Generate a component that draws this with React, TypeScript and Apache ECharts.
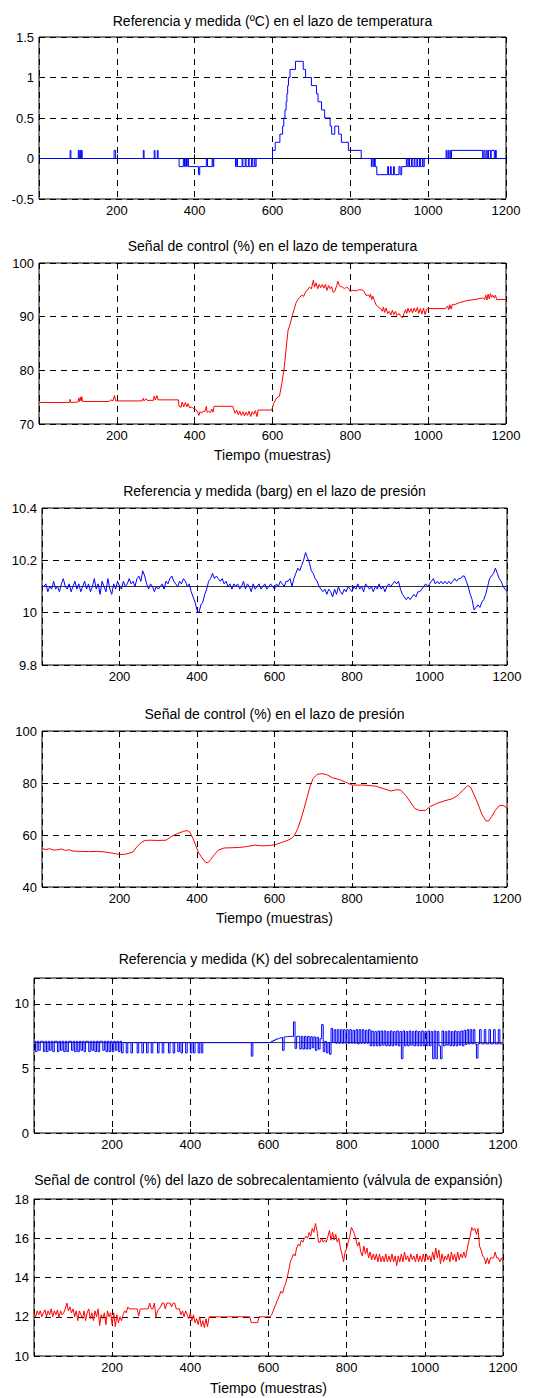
import React, { useEffect, useRef } from "react";
import * as echarts from "echarts";

// ---------------- data ----------------
const titles = [
  "Referencia y medida (ºC) en el lazo de temperatura",
  "Señal de control (%) en el lazo de temperatura",
  "Referencia y medida (barg) en el lazo de presión",
  "Señal de control (%) en el lazo de presión",
  "Referencia y medida (K) del sobrecalentamiento",
  "Señal de control (%) del lazo de sobrecalentamiento (válvula de expansión)",
];
const xAxisName = "Tiempo (muestras)";
const xRange = [0, 1200];
const xInterval = 200;
const yRanges = [
  [-0.5, 1.5, 0.5],
  [70, 100, 10],
  [9.8, 10.4, 0.2],
  [40, 100, 20],
  [0, 12, 5],
  [10, 18, 2],
];

// Temperature loop: reference and measured error (ºC), step-held samples [sample, value]
const tempRef = [[0, 0], [1200, 0]];
const tempMeas = [
  [0, 0], [80, 0.1], [82, 0], [101, 0.1], [103, 0], [105, 0.1], [107, 0], [109, 0.1], [111, 0],
  [193, 0.1], [197, 0], [268, 0.1], [270, 0], [296, 0.1], [298, 0], [304, 0.1], [306, 0],
  [360, -0.1], [371, 0], [374, -0.1], [376, 0], [379, -0.1], [381, 0], [384, -0.1], [410, -0.2],
  [413, -0.1], [430, 0], [433, -0.1], [445, 0], [447, -0.1], [449, 0],
  [505, -0.1], [507, 0], [510, -0.1], [522, 0], [524, -0.1], [530, 0], [532, -0.1], [538, 0],
  [540, -0.1], [546, 0], [548, -0.1], [553, 0], [555, -0.1], [558, 0],
  [600, 0.1], [607, 0.2], [619, 0.3], [626, 0.4], [629, 0.5], [632, 0.6], [635, 0.7], [637, 0.8],
  [639, 0.9], [641, 1.0], [645, 1.1], [659, 1.2], [679, 1.1], [685, 1.0], [700, 0.9], [713, 0.8],
  [717, 0.7], [726, 0.6], [734, 0.5], [748, 0.4], [752, 0.3], [760, 0.4], [770, 0.3], [777, 0.2],
  [795, 0.1], [828, 0],
  [854, -0.1], [856, 0], [859, -0.1], [862, 0], [864, -0.1], [868, -0.2], [896, -0.1], [898, -0.2],
  [903, -0.1], [905, -0.2], [911, -0.1], [913, -0.2], [925, -0.1], [928, -0.2], [932, -0.1],
  [944, 0], [946, -0.1], [950, 0], [952, -0.1], [957, 0], [959, -0.1], [964, 0], [966, -0.1],
  [971, 0], [973, -0.1], [978, 0], [980, -0.1], [985, 0], [987, -0.1], [990, 0],
  [1046, 0.1], [1048, 0], [1051, 0.1], [1053, 0], [1056, 0.1], [1058, 0], [1060, 0.1], [1140, 0],
  [1143, 0.1], [1146, 0], [1149, 0.1], [1152, 0], [1155, 0.1], [1160, 0], [1162, 0.1], [1170, 0],
  [1173, 0.1], [1175, 0], [1200, 0],
];

// Temperature loop control signal (%)
const tempCtrl = [
  [0, 74.0], [78, 74.0], [80, 74.6], [82, 74.0], [100, 74.1], [102, 74.8], [104, 74.2], [106, 75.0],
  [108, 74.3], [110, 75.1], [112, 74.2], [180, 74.2], [185, 74.5], [190, 74.3], [194, 75.3], [197, 74.3],
  [265, 74.3], [268, 74.8], [270, 74.3], [275, 74.7], [278, 74.4], [294, 74.4], [296, 75.2], [299, 74.5],
  [303, 75.3], [306, 74.5], [358, 74.5], [360, 73.3], [365, 73.1], [368, 74.1], [372, 73.2], [376, 74.0],
  [380, 73.2], [383, 73.8], [387, 73.0], [392, 73.2], [396, 72.9], [400, 72.9], [404, 72.6], [408, 72.2],
  [411, 71.6], [414, 72.3], [418, 72.0], [422, 72.4], [426, 72.3], [430, 73.3], [432, 72.2], [436, 72.4],
  [440, 72.1], [444, 72.8], [447, 72.2], [450, 73.3], [455, 73.3], [498, 73.3], [500, 72.8], [504, 72.0],
  [508, 72.6], [512, 71.7], [516, 72.4], [520, 71.6], [524, 72.3], [528, 71.5], [532, 72.2], [536, 71.6],
  [540, 72.4], [544, 71.4], [548, 72.3], [552, 71.8], [556, 72.5], [560, 71.4], [563, 72.6], [598, 72.6],
  [603, 73.8], [610, 74.8], [618, 75.2], [625, 78.0], [630, 80.5], [635, 84.0], [640, 87.5], [645, 88.5],
  [650, 90.0], [655, 91.2], [660, 92.5], [665, 93.2], [670, 93.6], [675, 94.0], [680, 93.8], [685, 94.6],
  [690, 95.0], [695, 95.5], [700, 95.2], [705, 96.8], [708, 95.5], [712, 96.3], [716, 95.2], [720, 96.0],
  [724, 95.4], [728, 96.0], [732, 95.3], [736, 96.0], [740, 94.9], [744, 95.8], [748, 95.2], [752, 95.6],
  [756, 94.5], [760, 94.7], [765, 95.8], [768, 96.6], [772, 95.8], [776, 95.6], [780, 95.5], [785, 95.2],
  [790, 95.5], [795, 95.3], [800, 94.7], [805, 94.9], [815, 94.8], [820, 95.0], [830, 95.0], [835, 94.7],
  [840, 94.0], [848, 94.0], [850, 93.6], [852, 94.2], [855, 93.2], [858, 93.8], [862, 93.0], [866, 92.2],
  [872, 91.8], [878, 91.5], [882, 91.0], [885, 91.8], [888, 90.8], [892, 91.6], [896, 90.6], [900, 91.0],
  [904, 90.3], [908, 91.2], [912, 90.4], [916, 91.0], [920, 90.2], [925, 90.6], [930, 90.0], [935, 89.8],
  [938, 90.6], [942, 91.3], [945, 90.6], [948, 91.6], [952, 90.8], [956, 91.5], [960, 90.7], [964, 91.6],
  [968, 90.9], [972, 91.7], [976, 90.6], [980, 91.5], [984, 90.5], [988, 91.6], [992, 90.4], [996, 91.4],
  [1000, 91.5], [1045, 91.5], [1050, 92.0], [1053, 91.3], [1056, 92.2], [1059, 91.4], [1062, 92.3],
  [1066, 92.2], [1080, 92.6], [1100, 93.0], [1120, 93.2], [1140, 93.5], [1145, 93.2], [1148, 94.0],
  [1151, 93.1], [1154, 94.2], [1157, 93.3], [1160, 94.3], [1163, 93.6], [1166, 94.0], [1170, 93.5],
  [1173, 94.0], [1176, 93.2], [1200, 93.2],
];

// Pressure loop (barg): reference level and measured values every 5 samples from 0
const presRefLevel = 10.1;
const presStep = 5;
const presMeas = [
  10.10,
  10.10, 10.11, 10.08, 10.10, 10.09, 10.12, 10.09, 10.10, 10.08, 10.11, 10.13, 10.10, 10.09, 10.11, 10.08, 10.10, 10.12, 10.09, 10.11, 10.08,
  10.10, 10.12, 10.09, 10.11, 10.08, 10.10, 10.13, 10.09, 10.11, 10.07, 10.12, 10.10, 10.08, 10.13, 10.09, 10.07, 10.11, 10.09, 10.12, 10.10,
  10.09, 10.12, 10.10, 10.11, 10.13, 10.11, 10.12, 10.10, 10.13, 10.14, 10.12, 10.16, 10.14, 10.11, 10.09, 10.11, 10.10, 10.08, 10.10, 10.09,
  10.10, 10.11, 10.09, 10.12, 10.11, 10.13, 10.14, 10.12, 10.11, 10.10, 10.12, 10.11, 10.13, 10.12, 10.10, 10.11, 10.08, 10.06, 10.04, 10.01,
  10.00, 10.03, 10.04, 10.07, 10.09, 10.12, 10.13, 10.15, 10.13, 10.14, 10.13, 10.12, 10.13, 10.11, 10.12, 10.10, 10.11, 10.09, 10.11, 10.10,
  10.11, 10.09, 10.10, 10.12, 10.09, 10.11, 10.10, 10.08, 10.11, 10.09, 10.10, 10.11, 10.09, 10.10, 10.11, 10.09, 10.10, 10.11, 10.10, 10.09,
  10.11, 10.10, 10.12, 10.11, 10.10, 10.12, 10.12, 10.13, 10.10, 10.13, 10.15, 10.17, 10.16, 10.18, 10.20, 10.23, 10.21, 10.19, 10.16, 10.15,
  10.13, 10.12, 10.10, 10.09, 10.08, 10.09, 10.07, 10.09, 10.08, 10.06, 10.09, 10.07, 10.10, 10.08, 10.07, 10.09, 10.08, 10.10, 10.09, 10.08,
  10.10, 10.09, 10.11, 10.09, 10.10, 10.08, 10.11, 10.10, 10.09, 10.10, 10.08, 10.10, 10.09, 10.11, 10.09, 10.10, 10.08, 10.10, 10.11, 10.10,
  10.11, 10.12, 10.11, 10.12, 10.09, 10.07, 10.06, 10.05, 10.06, 10.05, 10.06, 10.07, 10.06, 10.08, 10.08, 10.09, 10.10, 10.11, 10.10, 10.11,
  10.12, 10.13, 10.11, 10.12, 10.11, 10.12, 10.11, 10.12, 10.11, 10.12, 10.11, 10.12, 10.13, 10.12, 10.13, 10.13, 10.14, 10.14, 10.12, 10.10,
  10.07, 10.05, 10.01, 10.02, 10.03, 10.02, 10.04, 10.05, 10.07, 10.10, 10.13, 10.14, 10.15, 10.17, 10.15, 10.13, 10.12, 10.10, 10.09, 10.08,
];

// Pressure loop control signal (%)
const presCtrl = [
  [0, 54.8], [10, 54.4], [20, 54.7], [30, 54.2], [40, 54.3], [50, 54.6], [60, 54.1], [70, 54.3], [80, 53.8],
  [100, 53.7], [120, 53.6], [140, 53.7], [160, 53.5], [175, 53.2], [190, 52.8], [200, 52.5], [215, 52.6],
  [225, 53.0], [235, 53.5], [245, 55.5], [255, 57.0], [265, 57.9], [280, 58.0], [300, 57.9], [320, 58.0],
  [335, 59.5], [350, 60.6], [365, 61.4], [375, 61.7], [382, 61.0], [390, 58.5], [398, 55.5], [405, 53.0],
  [413, 51.2], [422, 49.5], [428, 49.3], [435, 50.5], [445, 52.5], [455, 54.2], [470, 55.0], [490, 55.1],
  [510, 55.2], [530, 55.6], [550, 56.1], [570, 55.8], [590, 56.0], [605, 56.4], [620, 57.2], [635, 58.0],
  [645, 58.8], [652, 60.0], [660, 62.5], [668, 66.0], [676, 70.0], [684, 74.5], [692, 78.8], [700, 81.8],
  [710, 83.3], [722, 83.6], [735, 83.2], [750, 82.0], [770, 81.2], [785, 80.2], [800, 79.2], [830, 79.2],
  [860, 78.8], [880, 77.9], [900, 76.9], [915, 77.4], [925, 77.3], [940, 75.0], [950, 72.8], [962, 70.2],
  [975, 69.4], [990, 69.5], [1000, 70.8], [1020, 72.2], [1040, 73.2], [1060, 74.0], [1075, 75.5],
  [1088, 77.5], [1098, 79.0], [1106, 78.4], [1115, 75.5], [1125, 72.0], [1135, 68.0], [1145, 65.5],
  [1152, 65.3], [1160, 67.0], [1170, 69.5], [1180, 71.3], [1190, 71.4], [1200, 70.4],
];

// Superheat (K): reference level and measured values every 4 samples from 0
const shRefLevel = 7;
const shStep = 4;
const shMeas = [
  7.1, 6.3, 7.1, 6.4, 7.1, 7.1, 6.3, 7.1, 6.3, 7.1, 6.4, 7.1, 6.3, 7.1, 7.1, 6.3, 7.1, 6.4, 7.1, 6.3, 7.1, 6.3, 7.1, 7.1, 6.4,
  7.1, 6.3, 7.1, 6.3, 7.1, 6.4, 7.1, 6.3, 7.1, 7.1, 6.3, 7.1, 6.4, 7.1, 6.3, 7.1, 6.3, 7.1, 7.1, 6.4, 7.1, 6.3, 7.1, 6.3, 7.1,
  6.3, 7.1, 6.4, 7.1, 6.3, 7.1, 6.2, 7.0, 7.0, 6.2, 7.0, 7.0, 6.2, 7.0, 7.0, 7.0, 6.2, 7.0, 7.0, 6.2, 7.0, 7.0, 6.2, 7.0, 7.0,
  6.2, 7.0, 7.0, 7.0, 6.2, 7.0, 7.0, 6.2, 7.0, 7.0, 7.0, 6.2, 7.0, 7.0, 6.2, 7.0, 7.0, 6.3, 7.0, 6.2, 7.0, 7.0, 6.2, 7.0, 7.0,
  6.2, 7.0, 6.2, 7.0, 7.0, 6.2, 7.0, 6.2, 7.0, 7.0, 7.0, 7.0, 7.0, 7.0, 7.0, 7.0, 7.0, 7.0, 7.0, 7.0, 7.0, 7.0, 7.0, 7.0, 7.0,
  7.0, 7.0, 7.0, 7.0, 7.0, 7.0, 7.0, 7.0, 7.0, 7.0, 7.0, 7.0, 7.0, 7.0, 5.95, 7.0, 7.0, 7.0, 7.0, 7.0, 7.0, 7.0, 7.0, 7.0, 7.0,
  7.0, 7.04, 7.1, 7.16, 7.22, 7.28, 7.33, 7.37, 7.4, 6.4, 7.44, 7.46, 7.48, 7.48, 7.48, 7.48, 8.6, 6.55, 7.48, 7.48, 6.5, 7.48, 6.5, 7.48, 6.5,
  7.48, 6.5, 7.46, 6.6, 7.44, 6.4, 7.4, 6.5, 7.3, 8.4, 6.3, 7.1, 6.2, 7.0, 6.1, 8.1, 7.0, 8.0, 6.95, 8.0, 6.95, 8.0, 6.95, 8.0, 6.95,
  8.0, 6.95, 8.0, 6.95, 7.95, 6.95, 8.0, 6.9, 8.0, 6.95, 8.0, 6.95, 7.95, 6.95, 8.0, 6.75, 7.9, 6.75, 7.85, 6.75, 7.9, 6.75, 7.9, 6.8, 7.9,
  6.75, 7.85, 6.75, 7.9, 6.75, 7.85, 6.8, 7.9, 6.75, 7.85, 5.75, 7.9, 6.75, 7.85, 6.75, 7.9, 6.8, 7.85, 6.75, 7.9, 6.75, 7.85, 6.75, 7.9, 6.75,
  7.85, 6.75, 7.9, 6.75, 7.85, 5.75, 7.9, 5.75, 7.85, 6.75, 5.75, 7.9, 6.75, 7.85, 6.8, 7.9, 6.75, 7.85, 6.75, 7.9, 6.75, 7.85, 6.8, 7.9, 6.75,
  7.95, 6.85, 8.0, 6.9, 8.0, 6.9, 8.0, 6.9, 5.8, 6.9, 8.0, 6.9, 6.9, 8.0, 6.9, 6.9, 8.0, 6.9, 6.9, 8.0, 6.9, 6.9, 8.0, 6.9, 6.9,
  6.9,
];

// Superheat loop control signal (expansion valve, %), every 4 samples from 0
const shCtrl = [
  12.2, 12.0, 12.3, 12.1, 12.3, 12.0, 12.2, 12.35, 12.0, 12.3, 12.1, 12.4, 12.0, 12.3, 12.1, 12.35, 11.95, 12.3, 12.1, 12.2, 12.4, 12.7, 12.3, 12.5, 12.2,
  12.4, 12.0, 12.3, 11.8, 12.3, 12.1, 11.9, 12.3, 11.8, 12.2, 12.4, 11.9, 12.2, 11.8, 12.3, 12.0, 12.4, 11.55, 12.1, 11.9, 12.2, 11.6, 12.3, 12.0, 12.2,
  11.6, 12.2, 11.5, 12.1, 11.7, 12.0, 11.8, 12.1, 12.3, 12.2, 12.5, 12.4, 12.4, 12.4, 12.4, 12.4, 12.4, 12.05, 12.4, 12.4, 12.4, 12.4, 12.4, 12.4, 12.7,
  12.4, 12.4, 12.7, 12.0, 12.3, 12.4, 12.5, 12.7, 12.7, 12.4, 12.7, 12.7, 12.7, 12.5, 12.7, 12.7, 12.4, 12.4, 12.4, 12.1, 12.3, 12.0, 12.3, 12.1, 11.9,
  12.2, 11.8, 12.1, 11.7, 11.9, 11.6, 12.0, 11.5, 11.8, 11.45, 11.9, 11.5, 12.0, 12.0, 12.0, 12.0, 12.0, 12.0, 12.0, 12.0, 12.0, 12.0, 12.0, 12.0, 12.0,
  12.0, 12.0, 12.0, 12.0, 12.0, 12.0, 12.0, 12.0, 12.0, 12.0, 12.0, 12.0, 12.0, 12.0, 11.7, 11.7, 11.7, 11.7, 11.7, 12.0, 12.0, 12.0, 12.0, 12.0, 12.0,
  12.0, 12.0, 12.1, 12.3, 12.5, 12.7, 12.9, 13.1, 13.3, 13.2, 13.5, 13.7, 14.0, 14.4, 14.8, 15.0, 15.2, 15.1, 15.5, 15.7, 15.6, 15.9, 15.8, 16.0, 16.1,
  16.0, 16.3, 16.1, 16.5, 16.3, 16.75, 16.4, 15.8, 15.8, 16.0, 15.8, 15.9, 15.8, 16.1, 16.4, 15.9, 16.3, 15.9, 16.2, 15.8, 16.0, 15.5, 15.2, 14.8, 15.3,
  15.5, 15.8, 16.1, 16.55, 16.4, 16.2, 15.9, 15.6, 15.8, 15.3, 15.1, 15.6, 15.2, 15.5, 15.0, 15.3, 14.9, 15.2, 14.9, 15.2, 14.8, 15.2, 14.8, 15.1, 14.8,
  15.2, 14.8, 15.1, 14.8, 15.2, 14.8, 15.1, 14.6, 15.1, 14.8, 15.2, 14.8, 15.3, 14.9, 15.1, 14.8, 15.2, 14.9, 15.1, 14.8, 15.2, 14.8, 15.1, 14.8, 15.2,
  14.8, 15.2, 14.9, 15.1, 14.8, 15.3, 14.9, 15.5, 15.0, 15.4, 14.7, 15.2, 14.8, 15.1, 14.9, 15.2, 14.8, 15.3, 14.9, 15.2, 14.8, 15.3, 14.9, 15.2, 15.0,
  15.3, 15.0, 15.4, 15.8, 16.1, 16.55, 16.4, 16.5, 16.2, 16.5, 15.6, 15.4, 15.1, 15.0, 14.7, 15.0, 14.7, 15.0, 15.0, 15.0, 15.3, 15.0, 15.0, 14.8, 15.0,
  14.8,
];

// ---------------- layout / style ----------------
const W = 533;
const H = 1398;
const FONT = "'Liberation Sans', Arial, Helvetica, sans-serif";
const BLUE = "#0000ff";
const RED = "#ff0000";
const boxes = [
  { left: 39, top: 37, width: 467, height: 162 },
  { left: 39, top: 263, width: 467, height: 161 },
  { left: 42, top: 508, width: 465, height: 157 },
  { left: 42, top: 731, width: 465, height: 156 },
  { left: 34, top: 978, width: 469, height: 155 },
  { left: 34, top: 1199, width: 469, height: 157 },
];
const titleY = [21, 246, 491, 714, 959, 1180];
const xNameY: Record<number, number> = { 1: 455, 3: 918, 5: 1388 };

function buildOption() {
  const grid = boxes.map((b) => ({
    ...b,
    show: true,
    borderColor: "#000",
    borderWidth: 1,
    backgroundColor: "#fff",
    containLabel: false,
  }));

  const xAxis = boxes.map((_, i) => ({
    type: "value",
    gridIndex: i,
    min: xRange[0],
    max: xRange[1],
    interval: xInterval,
    axisLine: { show: false },
    axisTick: { show: true, inside: true, length: 4, lineStyle: { color: "#000" } },
    axisLabel: {
      margin: 5,
      color: "#000",
      fontSize: 13,
      fontFamily: FONT,
      formatter: (v: number) => (v === 0 ? "" : String(v)),
    },
    splitLine: { show: true, lineStyle: { color: "#000", width: 1, type: [6, 5] } },
  }));

  const yAxis = yRanges.map((r, i) => ({
    type: "value",
    gridIndex: i,
    min: r[0],
    max: r[1],
    interval: r[2],
    axisLine: { show: false },
    axisTick: { show: true, inside: true, length: 4, lineStyle: { color: "#000" } },
    axisLabel: {
      margin: 5,
      color: "#000",
      fontSize: 13,
      fontFamily: FONT,
      formatter: (v: number) => {
        const rounded = Math.round(v * 1000) / 1000;
        if (i === 4 && rounded === 12) return "";
        return String(rounded);
      },
    },
    splitLine: { show: true, lineStyle: { color: "#000", width: 1, type: [6, 5] } },
  }));

  const line = (idx: number, data: number[][], color: string, extra: any = {}) => ({
    type: "line",
    xAxisIndex: idx,
    yAxisIndex: idx,
    data,
    showSymbol: false,
    symbol: "none",
    silent: true,
    lineStyle: { color, width: 1 },
    itemStyle: { color },
    ...extra,
  });

  const presMeasData = presMeas.map((v, i) => [i * presStep, v]);
  const shMeasData = shMeas.map((v, i) => [i * shStep, v]);
  const shCtrlData = shCtrl.map((v, i) => [i * shStep, v]);
  const presRef = [[xRange[0], presRefLevel], [xRange[1], presRefLevel]];
  const shRef = [[xRange[0], shRefLevel], [xRange[1], shRefLevel]];

  const series = [
    line(0, tempRef, "#000"),
    line(0, tempMeas, BLUE, { step: "end" }),
    line(1, tempCtrl, RED),
    line(2, presRef, "#333"),
    line(2, presMeasData, BLUE),
    line(3, presCtrl, RED),
    line(4, shRef, "#333"),
    line(4, shMeasData, BLUE, { step: "end" }),
    line(5, shCtrlData, RED),
  ];

  const graphics: any[] = [];
  boxes.forEach((b, i) => {
    const cx = b.left + b.width / 2;
    graphics.push({
      type: "text",
      x: cx,
      y: titleY[i],
      silent: true,
      style: {
        text: titles[i],
        fill: "#000",
        font: `14px ${FONT}`,
        align: "center",
        verticalAlign: "middle",
        textAlign: "center",
        textVerticalAlign: "middle",
      },
    });
    if (xNameY[i] !== undefined) {
      graphics.push({
        type: "text",
        x: cx,
        y: xNameY[i],
        silent: true,
        style: {
          text: xAxisName,
          fill: "#000",
          font: `14px ${FONT}`,
          align: "center",
          verticalAlign: "middle",
          textAlign: "center",
          textVerticalAlign: "middle",
        },
      });
    }
  });

  return {
    animation: false,
    backgroundColor: "#fff",
    grid,
    xAxis,
    yAxis,
    series,
    graphic: { elements: graphics },
  };
}

export default function App() {
  const ref = useRef<HTMLDivElement | null>(null);
  useEffect(() => {
    if (!ref.current) return;
    const chart = echarts.init(ref.current, undefined, { renderer: "svg" });
    chart.setOption(buildOption() as any);
    return () => chart.dispose();
  }, []);
  return (
    <div
      ref={ref}
      style={{ position: "absolute", left: 0, top: 0, width: W, height: H, background: "#fff" }}
    />
  );
}
